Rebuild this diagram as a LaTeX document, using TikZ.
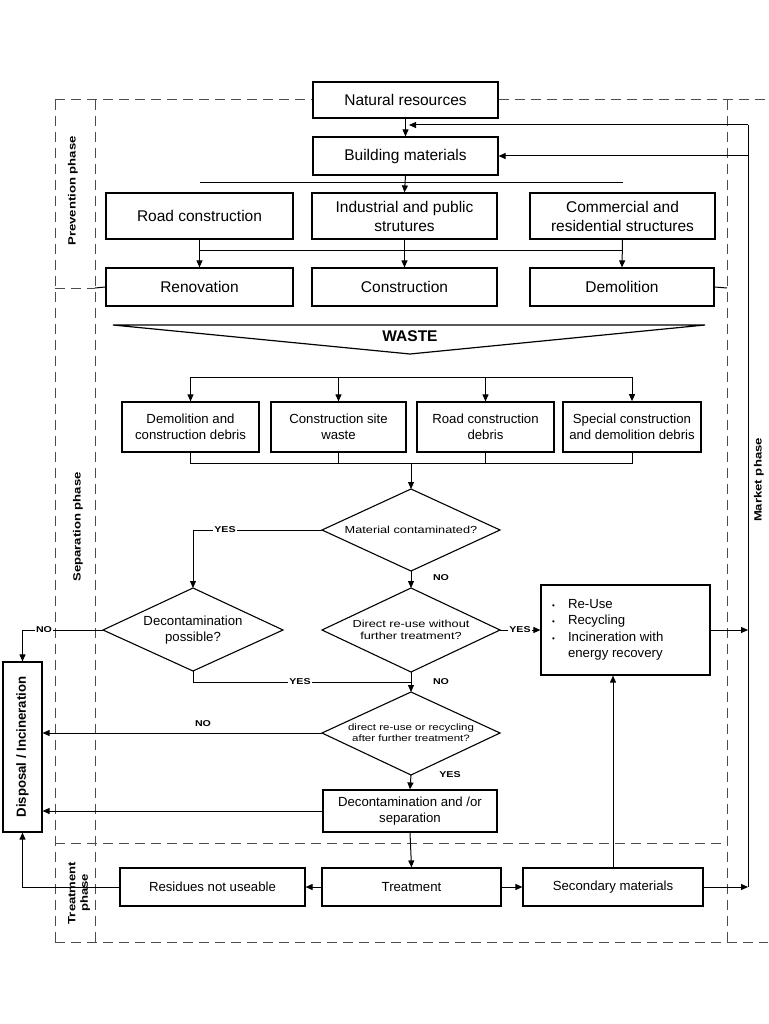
\documentclass[tikz,border=0pt]{standalone}
\usepackage{fontspec}
\setmainfont{Liberation Sans}
\newfontfamily\widefont[FakeStretch=1.25]{Liberation Sans}
\usetikzlibrary{arrows.meta}
\begin{document}
\begin{tikzpicture}[x=1pt,y=-1pt,
  box/.style={draw, line width=1.2pt, align=center, inner sep=1pt},
  big/.style={font=\fontsize{15.5}{19}\selectfont},
  mid/.style={font=\fontsize{13.2}{16.5}\selectfont},
  diaedge/.style={draw, line width=1.1pt},
  diatxt/.style={align=center, inner sep=0pt},
  arr/.style={-{Triangle[length=7pt,width=6pt]}, line width=1pt},
  ln/.style={line width=1pt},
  dsh/.style={draw=black!70, line width=1pt, dash pattern=on 10pt off 6pt},
  lab/.style={font=\widefont\bfseries\fontsize{8.5}{9}\selectfont, fill=white, inner sep=1pt},
  phase/.style={font=\widefont\bfseries\fontsize{10.5}{12.5}\selectfont, rotate=90, align=center}
]
\useasboundingbox (0,0) rectangle (768,1024);
\fill[white] (0,0) rectangle (768,1024);

% ---- boxes ----
\node[box,big,minimum width=185,minimum height=36] (nat) at (405.5,100) {Natural resources};
\node[box,big,minimum width=185,minimum height=38] (bm) at (405.5,156) {Building materials};
\node[box,big,minimum width=187,minimum height=46] (road) at (199.5,216) {Road construction};
\node[box,big,minimum width=185,minimum height=46] (ind) at (404.5,216) {Industrial and public\\strutures};
\node[box,big,minimum width=185,minimum height=46] (com) at (622.5,216) {Commercial and\\residential structures};
\node[box,big,minimum width=187,minimum height=38] (ren) at (199.5,287) {Renovation};
\node[box,big,minimum width=185,minimum height=38] (con) at (404.5,287) {Construction};
\node[box,big,minimum width=184,minimum height=38] (dem) at (622,287) {Demolition};

% ---- waste chevron ----
\coordinate (wl) at (113,325);
\coordinate (wr) at (705,325);
\coordinate (wv) at (410,354);
\draw[line width=1.2pt] (wl) -- (wr) -- (wv) -- cycle;
\node[font=\bfseries\fontsize{15.5}{18}\selectfont] (waste) at (410,336) {WASTE};

\node[box,mid,minimum width=137,minimum height=50] (db1) at (190.5,427) {Demolition and\\construction debris};
\node[box,mid,minimum width=135,minimum height=50] (db2) at (338.5,427) {Construction site\\waste};
\node[box,mid,minimum width=137,minimum height=50] (db3) at (485.5,427) {Road construction\\debris};
\node[box,mid,minimum width=138,minimum height=50,line width=1.7pt] (db4) at (632,427) {Special construction\\and demolition debris};

% ---- diamonds (drawn from named vertices) ----
\coordinate (q1n) at (411,489); \coordinate (q1s) at (411,571);
\coordinate (q1w) at (322,530); \coordinate (q1e) at (500,530);
\draw[diaedge] (q1n) -- (q1e) -- (q1s) -- (q1w) -- cycle;
\node[diatxt,font=\widefont\fontsize{10.2}{12}\selectfont] (q1) at (411,530) {Material contaminated?};

\coordinate (q2n) at (193,588); \coordinate (q2s) at (193,671);
\coordinate (q2w) at (103,630); \coordinate (q2e) at (283,630);
\draw[diaedge] (q2n) -- (q2e) -- (q2s) -- (q2w) -- cycle;
\node[diatxt,font=\fontsize{13.2}{15.5}\selectfont] (q2) at (193,630) {Decontamination\\possible?};

\coordinate (q3n) at (411,588); \coordinate (q3s) at (411,672);
\coordinate (q3w) at (322,630); \coordinate (q3e) at (500,630);
\draw[diaedge] (q3n) -- (q3e) -- (q3s) -- (q3w) -- cycle;
\node[diatxt,font=\widefont\fontsize{10.2}{11.5}\selectfont] (q3) at (411,630) {Direct re-use without\\further treatment?};

\coordinate (q4n) at (411,692); \coordinate (q4s) at (411,775);
\coordinate (q4w) at (322,733); \coordinate (q4e) at (500,733);
\draw[diaedge] (q4n) -- (q4e) -- (q4s) -- (q4w) -- cycle;
\node[diatxt,font=\widefont\fontsize{9.2}{11}\selectfont] (q4) at (411,733) {direct re-use or recycling\\after further treatment?};

\node[box,minimum width=169,minimum height=90] (reuse) at (625.5,630) {};
\node[anchor=west,font=\fontsize{13.2}{16}\selectfont,inner sep=0pt] (reusetxt) at (552,630)
  {\begin{tabular}{@{}l@{\hspace{13pt}}l@{}}
   {\footnotesize\textbullet} & Re-Use\\[0.5pt]
   {\footnotesize\textbullet} & Recycling\\[0.5pt]
   {\footnotesize\textbullet} & Incineration with\\[0.5pt]
    & energy recovery
   \end{tabular}};

\node[box,minimum width=39,minimum height=170] (disp) at (22.5,747) {};
\node[rotate=90,font=\bfseries\fontsize{13.2}{15}\selectfont] (disptxt) at (22.5,747) {Disposal / Incineration};

\node[box,mid,minimum width=174,minimum height=42] (decon) at (410,811) {Decontamination and /or\\separation};
\node[box,mid,minimum width=179,minimum height=38] (treat) at (411.5,887) {Treatment};
\node[box,mid,minimum width=185,minimum height=38] (resid) at (212.5,887) {Residues not useable};
\node[box,mid,minimum width=180,minimum height=38] (sec) at (613,887) {Secondary materials};

% ---- dashed phase frames ----
\draw[dsh] (55,100) -- (nat.west);
\draw[dsh] (nat.east) -- (768,100);
\draw[dsh] (55,100) -- (55,942);
\draw[dsh] (95,100) -- (95,942);
\draw[dsh] (727,100) -- (727,942);
\draw[dsh] (55,942) -- (768,942);
\draw[dsh] (55,288) -- (95,288);
\draw[ln] (95,288) -- (ren.west);
\draw[ln] (dem.east) -- (727,288);
\draw[dsh] (55,843) -- (727,843);

\node[phase] (pprev) at (73,191) {Prevention phase};
\node[phase] (psep) at (78,527) {Separation phase};
\node[phase] (ptreat) at (79,893) {Treatment\\phase};
\node[phase] (pmark) at (759,480) {Market phase};

% ---- connectors: top part ----
\coordinate (mkTop) at (748,125);
\coordinate (mkMid) at (748,156);
\coordinate (mkRe) at (748,630);
\coordinate (mkBot) at (748,887);
\coordinate (natIn) at (409,125);
\draw[arr] (nat.south) -- (bm.north);
\draw[ln] (mkBot) -- (mkTop);
\draw[arr] (mkTop) -- (natIn);
\draw[arr] (mkMid) -- (bm.east);

\coordinate (h1l) at (199.5,183);
\coordinate (h1r) at (622.5,183);
\draw[ln] (h1l) -- (h1r);
\draw[arr] (bm.south) -- (ind.north);

\coordinate (h2l) at (199.5,250);
\coordinate (h2r) at (622.5,250);
\draw[ln] (h2l) -- (h2r);
\draw[arr] (road.south) -- (ren.north);
\draw[arr] (ind.south) -- (con.north);
\draw[arr] (com.south) -- (dem.north);

% ---- waste distribution ----
\coordinate (h3l) at (190.5,377);
\coordinate (h3r) at (632,377);
\draw[ln] (h3l) -- (h3r);
\draw[arr] (h3l) -- (db1.north);
\draw[arr] (db2.north |- h3l) -- (db2.north);
\draw[arr] (db3.north |- h3l) -- (db3.north);
\draw[arr] (h3r) -- (db4.north);

\coordinate (h4l) at (190.5,463);
\coordinate (h4r) at (632,463);
\draw[ln] (db1.south) -- (h4l) -- (h4r) -- (db4.south);
\draw[ln] (db2.south) -- (db2.south |- h4l);
\draw[ln] (db3.south) -- (db3.south |- h4l);
\draw[arr] (q1n |- h4l) -- (q1n);

% ---- decisions ----
\coordinate (yes1) at (193,530);
\draw[arr] (q1w) -- (yes1) -- (q2n);
\node[lab] (lyes1) at (225,530) {YES};

\draw[arr] (q1s) -- (q3n);
\node[lab] (lno1) at (441,578) {NO};

\coordinate (no2) at (22.5,630);
\draw[arr] (q2w) -- (no2) -- (disp.north);
\node[lab] (lno2) at (44,630) {NO};

\draw[arr] (q3e) -- (reuse.west);
\node[lab] (lyes3) at (520,630) {YES};
\draw[arr] (reuse.east) -- (mkRe);

\coordinate (yes2a) at (193,682);
\coordinate (yes2b) at (411,682);
\draw[ln] (q2s) -- (yes2a) -- (yes2b);
\node[lab] (lyes2) at (300,682) {YES};
\draw[arr] (q3s) -- (q4n);
\node[lab] (lno3) at (441,682) {NO};

\draw[arr] (q4w) -- (disp.east |- q4w);
\node[lab,fill=none] (lno4) at (203,724) {NO};
\draw[arr] (q4s) -- (decon.north);
\node[lab] (lyes4) at (450,775) {YES};

\draw[arr] (decon.west) -- (disp.east |- decon.west);
\draw[arr] (decon.south) -- (treat.north);
\draw[arr] (treat.west) -- (resid.east);
\draw[arr] (treat.east) -- (sec.west);
\coordinate (resL) at (22.5,887);
\draw[arr] (resid.west) -- (resL) -- (disp.south);
\draw[arr] (sec.north) -- (sec.north |- reuse.south);
\draw[arr] (sec.east) -- (mkBot);
\end{tikzpicture}
\end{document}
